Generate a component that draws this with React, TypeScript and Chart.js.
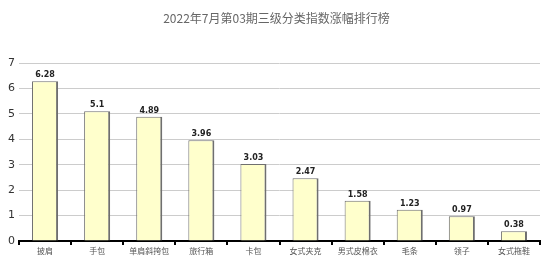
import React, { useEffect, useRef } from "react";
import { Chart, registerables } from "chart.js";

Chart.register(...registerables);

const titleText = "2022年7月第03期三级分类指数涨幅排行榜";
const categories = ["披肩", "手包", "单肩斜挎包", "旅行箱", "卡包", "女式夹克", "男式皮棉衣", "毛条", "领子", "女式拖鞋"];
const values = [6.28, 5.1, 4.89, 3.96, 3.03, 2.47, 1.58, 1.23, 0.97, 0.38];
const valueLabels = ["6.28", "5.1", "4.89", "3.96", "3.03", "2.47", "1.58", "1.23", "0.97", "0.38"];
const yTicks = [0, 1, 2, 3, 4, 5, 6, 7];

export default function App() {
  const ref = useRef<HTMLCanvasElement>(null);
  useEffect(() => {
    document.body.style.margin = "0";
    const canvas = ref.current!;
    const extras = {
      id: "extras",
      afterDraw(chart: any) {
        const ctx = chart.ctx;
        ctx.save();
        ctx.fillStyle = "#666";
        ctx.font = "12px 'Noto Sans CJK SC'";
        ctx.textAlign = "center";
        ctx.textBaseline = "middle";
        ctx.fillText(titleText, chart.width / 2, 18);
        const meta = chart.getDatasetMeta(0);
        ctx.font = "bold 8px 'DejaVu Sans'";
        ctx.fillStyle = "#222";
        ctx.textBaseline = "bottom";
        meta.data.forEach((bar: any, i: number) => {
          ctx.fillText(valueLabels[i], bar.x, bar.y - 2);
        });
        ctx.restore();
      },
    };
    const chart = new Chart(canvas, {
      type: "bar",
      data: {
        labels: categories,
        datasets: [
          {
            data: values,
            backgroundColor: "#ffffcc",
            borderColor: "#6f6f6f",
            borderWidth: { left: 1, top: 1, right: 2, bottom: 0 } as any,
            borderSkipped: false,
            barPercentage: 0.5,
            categoryPercentage: 1,
          },
        ],
      },
      options: {
        animation: false,
        responsive: false,
        maintainAspectRatio: false,
        layout: { padding: { top: 63, right: 13, left: 0, bottom: 0 } },
        plugins: { legend: { display: false }, tooltip: { enabled: false }, title: { display: false } },
        scales: {
          x: {
            type: "category",
            offset: true,
            border: { display: true, color: "#000", width: 2 },
            grid: { offset: true, drawOnChartArea: false, drawTicks: true, tickLength: 4, color: "#000", lineWidth: 2 },
            ticks: { color: "#555", font: { family: "'Noto Sans CJK SC'", size: 8 }, padding: 1, maxRotation: 0, autoSkip: false },
            afterFit(scale: any) { scale.height = 34; },
          },
          y: {
            min: 0,
            max: 7,
            afterBuildTicks(scale: any) { scale.ticks = yTicks.map((v) => ({ value: v })); },
            border: { display: false },
            grid: { color: "#cccccc", lineWidth: 1, drawTicks: false },
            ticks: { color: "#333", font: { family: "'DejaVu Sans'", size: 11 }, padding: 4 },
            afterFit(scale: any) { scale.width = 19; },
          },
        },
      },
      plugins: [extras],
    });
    return () => chart.destroy();
  }, []);
  return <canvas ref={ref} width={553} height={275} style={{ display: "block", width: 553, height: 275 }} />;
}
